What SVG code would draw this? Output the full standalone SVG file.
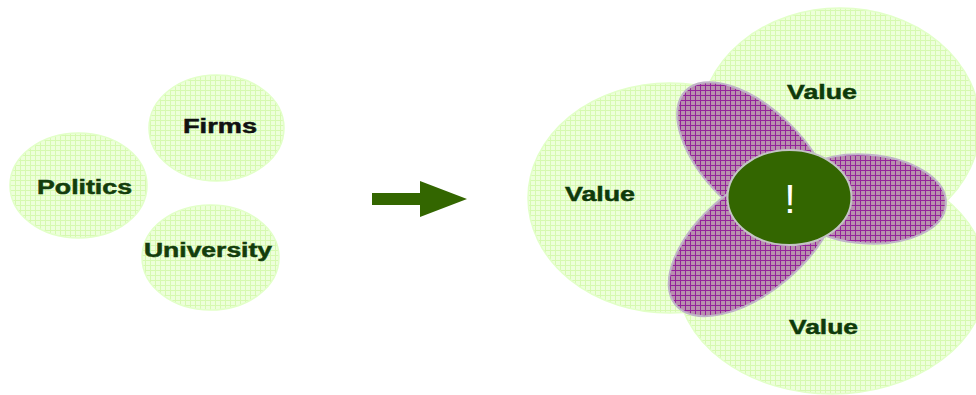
<svg xmlns="http://www.w3.org/2000/svg" width="976" height="395" viewBox="0 0 976 395">
<style>
.bubble{fill:url(#gg);stroke:#e2ffc8;stroke-width:1.5}
.petal{fill:url(#pg);stroke:#c0b4c8;stroke-width:2}
.lbl{font-family:"Liberation Sans",Arial,sans-serif;font-weight:bold;text-anchor:middle;stroke-width:0.5}
.dg{fill:#133d0c;stroke:#133d0c}
.bk{fill:#111111;stroke:#111111}
.val{font-size:21px;fill:#0e3a0a;stroke:#0e3a0a}
</style>
<defs>
<pattern id="gg" patternUnits="userSpaceOnUse" width="5" height="5">
<rect width="5" height="5" fill="#edffda"/>
<path d="M0.5 0V5M0 0.5H5" stroke="#d6f9b0" stroke-width="1"/>
</pattern>
<pattern id="pg" patternUnits="userSpaceOnUse" width="5" height="5">
<rect width="5" height="5" fill="#b88fae"/>
<path d="M0.5 0V5M0 0.5H5" stroke="#93229a" stroke-width="1"/>
</pattern>
</defs>
<rect width="976" height="395" fill="#ffffff"/>

<g id="firms">
<ellipse class="bubble" cx="216.5" cy="128" rx="67.5" ry="53"/>
<text class="lbl bk" x="220" y="133" font-size="20" textLength="74" lengthAdjust="spacingAndGlyphs">Firms</text>
</g>
<g id="politics">
<ellipse class="bubble" cx="78.5" cy="185.5" rx="68.5" ry="52.5"/>
<text class="lbl dg" x="84.5" y="194" font-size="20" textLength="95" lengthAdjust="spacingAndGlyphs">Politics</text>
</g>
<g id="university">
<ellipse class="bubble" cx="210.5" cy="257.5" rx="68.5" ry="52.5"/>
<text class="lbl dg" x="208" y="257" font-size="20" textLength="128" lengthAdjust="spacingAndGlyphs">University</text>
</g>

<g id="connectors">
<polygon points="372,193 420,193 420,181 467,199 420,217 420,205 372,205" fill="#336600"/>
</g>

<g id="value-left">
<ellipse class="bubble" cx="670" cy="198" rx="142" ry="115"/>
</g>
<g id="value-top">
<ellipse class="bubble" cx="840" cy="125" rx="140" ry="117"/>
</g>
<g id="value-bottom">
<ellipse class="bubble" cx="832" cy="278" rx="155" ry="116"/>
</g>

<g id="petal-top">
<path class="petal" d="M685.7 90.7A98 50 45 1 0 824.3 229.3A98 50 45 1 0 685.7 90.7Z"/>
</g>
<g id="petal-right">
<path class="petal" d="M945.8 204.6A80 44 4 1 0 786.2 193.4A80 44 4 1 0 945.8 204.6Z"/>
</g>
<g id="petal-bottom">
<path class="petal" d="M830.4 175.1A101 52 -40 1 0 675.6 304.9A101 52 -40 1 0 830.4 175.1Z"/>
</g>

<g id="value-labels">
<text class="lbl val" x="600" y="201" textLength="70" lengthAdjust="spacingAndGlyphs">Value</text>
<text class="lbl val" x="822" y="99" textLength="70" lengthAdjust="spacingAndGlyphs">Value</text>
<text class="lbl val" x="823.5" y="334" textLength="69" lengthAdjust="spacingAndGlyphs">Value</text>
</g>

<g id="center">
<ellipse cx="789.5" cy="197.5" rx="62" ry="47.5" fill="#336600" stroke="#c4c4c4" stroke-width="2"/>
<text x="790" y="213" font-family="Liberation Sans,Arial,sans-serif" font-size="41" fill="#ffffff" text-anchor="middle">!</text>
</g>
</svg>
